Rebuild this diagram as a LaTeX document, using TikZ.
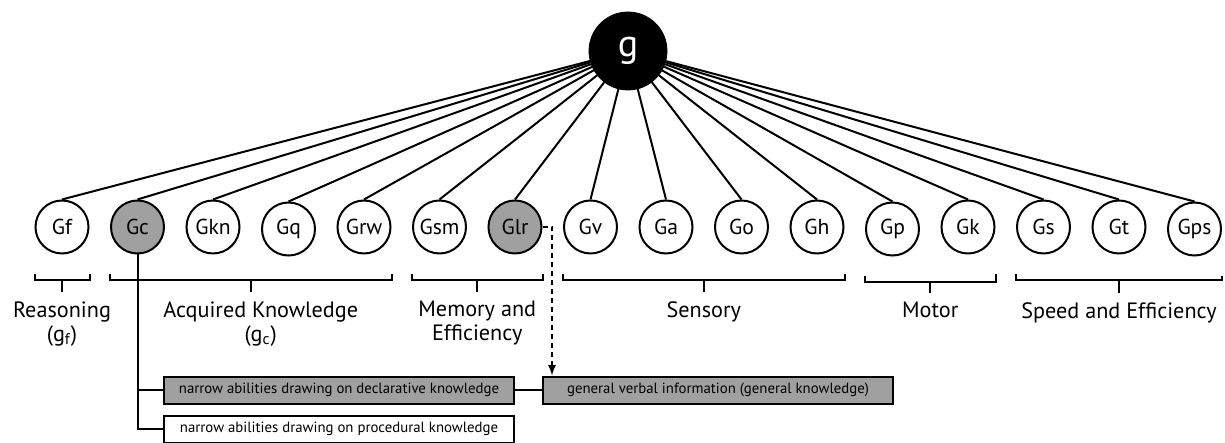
\documentclass[tikz,border=0pt]{standalone}
\usepackage{fontspec}
\setmainfont{PT Sans}
\usetikzlibrary{
  calc,
  matrix,
  positioning
}
\definecolor{shade}{RGB}{160,160,160}

\begin{document}
\begin{tikzpicture}[
  x=0.5pt,
  y=-0.5pt,
  general/.style={
    draw,
    circle,
    fill=black,
    text=white,
    minimum size=39pt,
    inner sep=0pt,
    font=\fontsize{19}{19}\selectfont
  },
  shaded/.style={
    fill=shade
  },
  net/.style={
    matrix of nodes,
    nodes={
      draw,
      circle,
      fill=white,
      line width=1pt,
      minimum size=26.5pt,
      inner sep=0pt,
      font=\fontsize{10.8}{12}\selectfont
    },
    column sep=10.25pt
  },
  link/.style={
    line width=1pt
  },
  bracket/.style={
    line width=1pt
  },
  group/.style={
    align=center,
    inner sep=0pt,
    font=\fontsize{11.1}{12}\selectfont
  },
  box/.style={
    draw,
    rectangle,
    line width=1pt,
    minimum width=175pt,
    minimum height=13.5pt,
    inner sep=0pt,
    font=\fontsize{7.4}{8}\selectfont
  },
  hint/.style={
    ->,
    line width=0.8pt,
    dash pattern=on 2.5pt off 2pt
  },
  >=latex
]
\useasboundingbox (0,0) rectangle (1225,443);

\node[general] (g) at (628,51) {g};

\matrix[net] (abil) at (628.25,228) {
  Gf & |[shaded]| Gc & Gkn & Gq & Grw & Gsm & |[shaded]| Glr &
  Gv & Ga & Go & Gh & Gp & Gk & Gs & Gt & Gps \\
};

% Lines from g
\draw[link] (g) -- (abil-1-1.north);
\draw[link] (g) -- (abil-1-2.north);
\draw[link] (g) -- (abil-1-3.north);
\draw[link] (g) -- (abil-1-4.north);
\draw[link] (g) -- (abil-1-5.north);
\draw[link] (g) -- (abil-1-6.north);
\draw[link] (g) -- (abil-1-7.north);
\draw[link] (g) -- (abil-1-8.north);
\draw[link] (g) -- (abil-1-9.north);
\draw[link] (g) -- (abil-1-10.north);
\draw[link] (g) -- (abil-1-11.north);
\draw[link] (g) -- (abil-1-12.north);
\draw[link] (g) -- (abil-1-13.north);
\draw[link] (g) -- (abil-1-14.north);
\draw[link] (g) -- (abil-1-15.north);
\draw[link] (g) -- (abil-1-16.north);

% Brackets
\draw[bracket] ($(abil-1-1.west)+(0,47)$) -- ++(0,6) -| ($(abil-1-1.east)+(0,47)$);
\draw[bracket] ($(abil-1-1.west)!0.5!(abil-1-1.east)+(0,53)$) -- ++(0,12) coordinate (reas);
\draw[bracket] ($(abil-1-2.west)+(0,47)$) -- ++(0,6) -| ($(abil-1-5.east)+(0,47)$);
\draw[bracket] ($(abil-1-2.west)!0.5!(abil-1-5.east)+(0,53)$) -- ++(0,12) coordinate (acq);
\draw[bracket] ($(abil-1-6.west)+(0,47)$) -- ++(0,6) -| ($(abil-1-7.east)+(0,47)$);
\draw[bracket] ($(abil-1-6.west)!0.5!(abil-1-7.east)+(0,53)$) -- ++(0,12) coordinate (mem);
\draw[bracket] ($(abil-1-8.west)+(0,47)$) -- ++(0,6) -| ($(abil-1-11.east)+(0,47)$);
\draw[bracket] ($(abil-1-8.west)!0.5!(abil-1-11.east)+(0,53)$) -- ++(0,12) coordinate (sens);
\draw[bracket] ($(abil-1-12.west)+(0,47)$) -- ++(0,6) -| ($(abil-1-13.east)+(0,47)$);
\draw[bracket] ($(abil-1-12.west)!0.5!(abil-1-13.east)+(0,53)$) -- ++(0,12) coordinate (mot);
\draw[bracket] ($(abil-1-14.west)+(0,47)$) -- ++(0,6) -| ($(abil-1-16.east)+(0,47)$);
\draw[bracket] ($(abil-1-14.west)!0.5!(abil-1-16.east)+(0,53)$) -- ++(0,12) coordinate (speed);

% Group labels
\node[group, below=4.5pt of reas] (reaslbl) {Reasoning\\(g\textsubscript{f})};
\node[group, below=4.5pt of acq, xshift=5pt] (acqlbl) {Acquired Knowledge\\(g\textsubscript{c})};
\node[group, below=4.5pt of mem] (memlbl) {Memory and\\Efficiency};
\node[group, below=4.5pt of sens] (senslbl) {Sensory};
\node[group, below=4.5pt of mot] (motlbl) {Motor};
\node[group, below=4.5pt of speed] (speedlbl) {Speed and Efficiency};

% Narrow abilities
\node[box, fill=shade] (declbox) at (339,390) {narrow abilities drawing on declarative knowledge};
\node[box, below=5pt of declbox] (procbox) {narrow abilities drawing on procedural knowledge};
\node[box, fill=shade, right=13.5pt of declbox] (gvibox) {general verbal information (general knowledge)};

\draw[link] (abil-1-2.south) |- (procbox.west);
\draw[link] (abil-1-2.south |- declbox.west) -- (declbox.west);
\draw[link] (declbox) -- (gvibox);
\draw[hint] (abil-1-7.east) -| ($(gvibox.north west)+(10,0)$);

\end{tikzpicture}
\end{document}
